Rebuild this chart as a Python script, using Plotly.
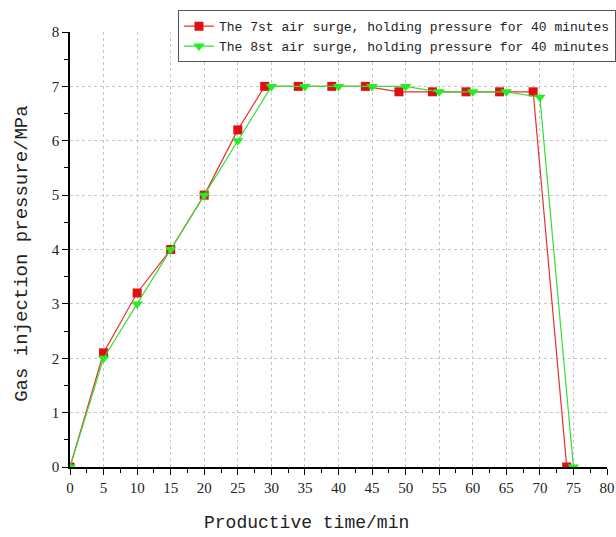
import plotly.graph_objects as go

# Gas injection pressure during two air surges, 40 min pressure holding
time_7th = [0, 5, 10, 15, 20, 25, 29, 34, 39, 44, 49, 54, 59, 64, 69, 74]
pressure_7th = [0, 2.1, 3.2, 4.0, 5.0, 6.2, 7.0, 7.0, 7.0, 7.0, 6.9, 6.9, 6.9, 6.9, 6.9, 0]

time_8th = [0, 5, 10, 15, 20, 25, 30, 35, 40, 45, 50, 55, 60, 65, 70, 75]
pressure_8th = [0, 2.0, 3.0, 4.0, 5.0, 6.0, 7.0, 7.0, 7.0, 7.0, 7.0, 6.9, 6.9, 6.9, 6.8, 0]

name_7th = "The 7st air surge, holding pressure for 40 minutes"
name_8th = "The 8st air surge, holding pressure for 40 minutes"

x_ticks = list(range(0, 81, 5))
y_ticks = list(range(0, 9))

x_title = "Productive time/min"
y_title = "Gas injection pressure/MPa"

mono = "Liberation Mono, DejaVu Sans Mono, monospace"
serif = "Liberation Serif, Times New Roman, serif"

fig = go.Figure()
fig.add_trace(go.Scatter(
    x=time_7th, y=pressure_7th, name=name_7th, mode="lines+markers",
    line=dict(color="#e8312f", width=1.2),
    marker=dict(symbol="square", size=9, color="#e01010"),
))
fig.add_trace(go.Scatter(
    x=time_8th, y=pressure_8th, name=name_8th, mode="lines+markers",
    line=dict(color="#33e033", width=1.2),
    marker=dict(symbol="triangle-down", size=10, color="#22ee22"),
))

axis_common = dict(
    showline=True, linecolor="black", linewidth=1.5,
    ticks="outside", ticklen=6, tickwidth=1.2, tickcolor="black",
    showgrid=True, gridcolor="#c8c8c8", griddash="dot", gridwidth=1,
    zeroline=False, automargin=False,
    tickfont=dict(family=serif, size=15, color="#222"),
    mirror=False,
)

# paper spans to the right edge; the plot area stops a little short of it
fig.update_xaxes(
    range=[0, 80], domain=[0, 537 / 546],
    tickvals=x_ticks, ticktext=[str(v) for v in x_ticks],
    minor=dict(dtick=2.5, ticklen=4, tickcolor="black", ticks="outside", showgrid=False),
    **axis_common,
)
fig.update_yaxes(
    range=[0, 8], tickvals=y_ticks, ticktext=[str(v) for v in y_ticks],
    minor=dict(dtick=0.5, ticklen=4, tickcolor="black", ticks="outside", showgrid=False),
    **axis_common,
)

# Axis titles placed as annotations
fig.add_annotation(
    text=x_title, xref="paper", yref="paper", x=0.434, y=-0.129,
    xanchor="center", yanchor="middle", showarrow=False,
    font=dict(family=mono, size=18, color="#222"),
)
fig.add_annotation(
    text=y_title, xref="paper", yref="paper", x=-0.088, y=0.49,
    xanchor="center", yanchor="middle", showarrow=False, textangle=-90,
    font=dict(family=mono, size=19, color="#222"),
)

fig.update_layout(
    width=616, height=537,
    margin=dict(l=70, r=0, t=32, b=70),
    paper_bgcolor="white", plot_bgcolor="white",
    showlegend=True,
    legend=dict(
        x=1.0, y=1.05, xanchor="right", yanchor="top",
        bgcolor="white", bordercolor="#555", borderwidth=1,
        font=dict(family=mono, size=13, color="#222"),
        tracegroupgap=0, itemwidth=30,
    ),
)

fig.write_html("out.html")
